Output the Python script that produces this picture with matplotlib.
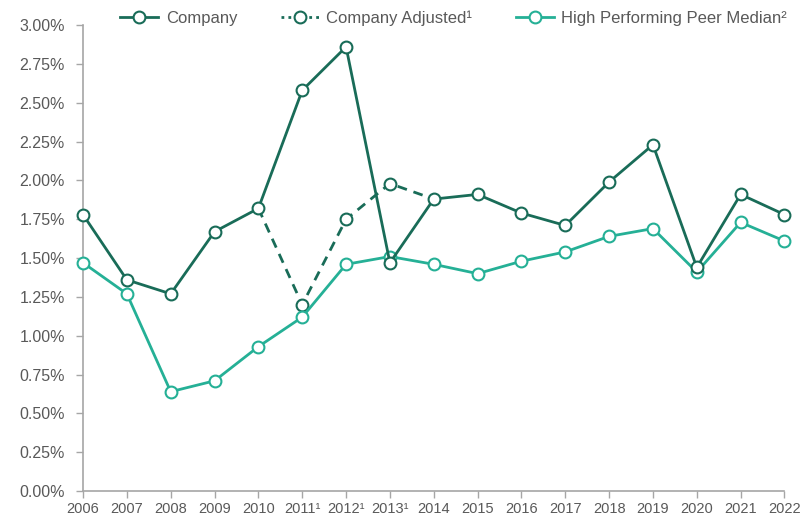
import numpy as np
import matplotlib
matplotlib.use("Agg")
import matplotlib.pyplot as plt
from matplotlib.ticker import FuncFormatter

plt.rcParams['font.family'] = ['Liberation Sans', 'DejaVu Sans']

# data (percent)
years = [2006, 2007, 2008, 2009, 2010, 2011, 2012, 2013, 2014, 2015,
         2016, 2017, 2018, 2019, 2020, 2021, 2022]
year_labels = ['2006', '2007', '2008', '2009', '2010', '2011¹', '2012¹', '2013¹', '2014',
               '2015', '2016', '2017', '2018', '2019', '2020', '2021', '2022']
company = [1.78, 1.36, 1.27, 1.67, 1.82, 2.58, 2.86, 1.47, 1.88, 1.91,
           1.79, 1.71, 1.99, 2.23, 1.44, 1.91, 1.78]
adj_years = [2010, 2011, 2012, 2013, 2014]
company_adj = [1.82, 1.20, 1.75, 1.98, 1.88]
peer = [1.47, 1.27, 0.64, 0.71, 0.93, 1.12, 1.46, 1.51, 1.46, 1.40,
        1.48, 1.54, 1.64, 1.69, 1.41, 1.73, 1.61]

dark = '#196c58'
teal = '#25b096'
grey_txt = '#595959'
grey_ax = '#a6a6a6'

fig = plt.figure(figsize=(8.1, 5.23), dpi=100)
ax = fig.add_axes([0.1025, 0.061, 0.866, 0.891])

mk = dict(marker='o', markersize=8.5, markerfacecolor='white', markeredgewidth=1.5, clip_on=False)

ax.plot(adj_years, company_adj, color=dark, lw=2, linestyle=(0, (3.5, 2.5)),
        markevery=[1, 2, 3], markeredgecolor=dark, zorder=2, **mk)
ax.plot(years, peer, color=teal, lw=2, markeredgecolor=teal, zorder=3, **mk)
ax.plot(years, company, color=dark, lw=2, markeredgecolor=dark, zorder=4, **mk)

ax.set_xlim(2006, 2022)
ax.set_ylim(0, 3.0)
ax.set_yticks(np.arange(0, 3.01, 0.25))
ax.yaxis.set_major_formatter(FuncFormatter(lambda v, p: f'{v:.2f}%'))
ax.set_xticks(years)
ax.set_xticklabels(year_labels)

for s in ['top', 'right']:
    ax.spines[s].set_visible(False)
for s in ['left', 'bottom']:
    ax.spines[s].set_color(grey_ax)
    ax.spines[s].set_linewidth(1.2)
ax.tick_params(axis='both', colors=grey_ax, labelcolor=grey_txt,
               length=5, width=1, direction='out')
ax.tick_params(axis='x', pad=3, labelsize=10.5)
ax.tick_params(axis='y', pad=8, labelsize=11.5)

# legend handles
h1, = ax.plot([], [], color=dark, lw=2, markeredgecolor=dark, **mk)
h2, = ax.plot([], [], color=dark, lw=2, linestyle=(0, (1, 1.5)), markeredgecolor=dark, **mk)
h3, = ax.plot([], [], color=teal, lw=2, markeredgecolor=teal, **mk)
leg = fig.legend([h1, h2, h3], ['Company', 'Company Adjusted¹', 'High Performing Peer Median²'],
                 loc='center', bbox_to_anchor=(0.56, 0.966), ncol=3, frameon=False,
                 fontsize=12, handlelength=2.3, numpoints=1, columnspacing=2.6,
                 handletextpad=0.45)
for t in leg.get_texts():
    t.set_color(grey_txt)

fig.savefig('out.png', dpi=100)
